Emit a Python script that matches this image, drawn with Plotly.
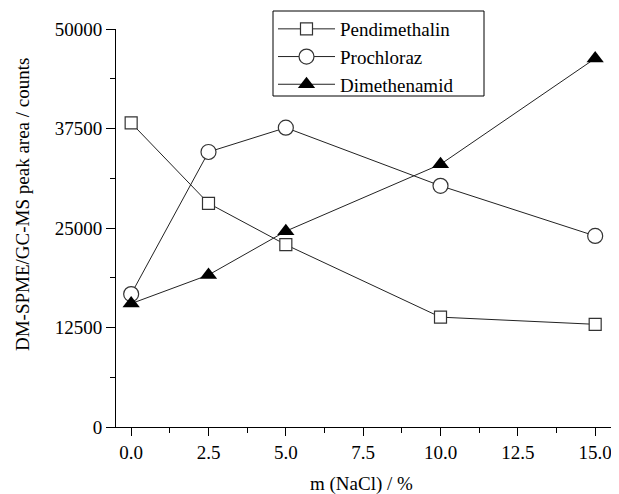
import plotly.graph_objects as go

x_nacl = [0, 2.5, 5, 10, 15]
pendimethalin = [38200, 28100, 22900, 13800, 12900]
prochloraz = [16700, 34550, 37600, 30300, 24000]
dimethenamid = [15500, 19100, 24600, 33000, 46300]

FONT = "Liberation Serif"
FS = 19

# page offset compensation (browser body margin)
OFF = 8
W, H = 619 - OFF, 494 - OFF
L, T, B = 116 - OFF, 29 - OFF, 494 - 427
PW, PH = W - L, H - T - B
X0, Y0 = 116, 427  # screen pixel of plot-area left / bottom


def px_x(p):
    return (p - X0) / PW


def px_y(p):
    return (Y0 - p) / PH


fig = go.Figure()
fig.add_trace(go.Scatter(
    x=x_nacl, y=pendimethalin, name="Pendimethalin", mode="lines+markers",
    line=dict(color="#222222", width=1),
    marker=dict(symbol="square", size=12, color="white", line=dict(color="#333333", width=1.2)),
))
fig.add_trace(go.Scatter(
    x=x_nacl, y=prochloraz, name="Prochloraz", mode="lines+markers",
    line=dict(color="#222222", width=1),
    marker=dict(symbol="circle", size=15, color="white", line=dict(color="#333333", width=1.2)),
))
fig.add_trace(go.Scatter(
    x=x_nacl, y=dimethenamid, name="Dimethenamid", mode="lines+markers",
    line=dict(color="#222222", width=1),
    marker=dict(symbol="triangle-up", size=15, color="black", line=dict(color="black", width=0)),
))

fig.update_layout(
    width=W, height=H,
    margin=dict(l=L, r=0, t=T, b=B, pad=0),
    paper_bgcolor="white", plot_bgcolor="white",
    font=dict(family=FONT, size=FS, color="black"),
    showlegend=True,
    legend=dict(
        x=px_x(273), y=px_y(10), xanchor="left", yanchor="top",
        borderwidth=0, bgcolor="rgba(0,0,0,0)",
        font=dict(family=FONT, size=FS, color="black"),
        itemwidth=57,
        tracegroupgap=0,
    ),
    shapes=[
        dict(type="rect", xref="paper", yref="paper",
             x0=px_x(273), x1=px_x(484), y0=px_y(96), y1=px_y(11),
             line=dict(color="black", width=1), fillcolor="white", layer="below"),
    ],
    xaxis=dict(
        range=[-0.49, 15.77],
        tick0=0, dtick=2.5, tickformat=".1f",
        ticks="outside", ticklen=8, tickwidth=1, tickcolor="black",
        showline=True, linecolor="black", linewidth=1,
        showgrid=False, zeroline=False,
        minor=dict(dtick=1.25, tick0=0, ticks="outside", ticklen=5, tickcolor="black", showgrid=False),
        tickfont=dict(family=FONT, size=FS, color="black"),
    ),
    yaxis=dict(
        range=[0, 50000],
        tick0=0, dtick=12500, tickformat="d",
        ticks="outside", ticklen=9, tickwidth=1, tickcolor="black",
        showline=True, linecolor="black", linewidth=1,
        showgrid=False, zeroline=False,
        minor=dict(dtick=6250, tick0=0, ticks="outside", ticklen=5, tickcolor="black", showgrid=False),
        tickfont=dict(family=FONT, size=FS, color="black"),
    ),
    annotations=[
        dict(text="DM-SPME/GC-MS peak area / counts", xref="paper", yref="paper",
             x=px_x(22), y=px_y(205), textangle=-90, showarrow=False,
             xanchor="center", yanchor="middle", font=dict(family=FONT, size=FS)),
        dict(text="m (NaCl) / %", xref="paper", yref="paper",
             x=px_x(361), y=px_y(484), showarrow=False,
             xanchor="center", yanchor="middle", font=dict(family=FONT, size=FS)),
    ],
)

fig.write_html("out.html")
